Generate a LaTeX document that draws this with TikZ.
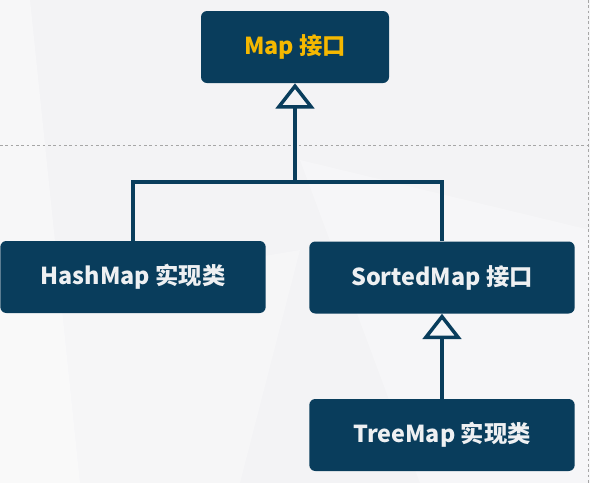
\documentclass[tikz,border=0pt]{standalone}
\usepackage{fontspec}
\setmainfont{Noto Sans CJK SC}
\usetikzlibrary{arrows.meta}

\definecolor{boxcolor}{RGB}{9,61,92}
\definecolor{titlecolor}{RGB}{245,184,0}
\definecolor{textcolor}{RGB}{238,240,242}
\definecolor{bgcolor}{RGB}{243,243,245}

\tikzset{
  classbox/.style={rectangle, rounded corners=4.5pt, fill=boxcolor, draw=none,
    minimum width=199pt, minimum height=54pt, inner sep=0pt,
    text=textcolor, font=\bfseries\fontsize{17.5}{17.5}\selectfont},
  link/.style={draw=boxcolor, line width=2.6pt},
  inherit/.style={link, -{Triangle[open, length=19pt, width=29pt, line width=2.6pt]}},
  guide/.style={draw=gray!70, line width=0.6pt, dash pattern=on 2pt off 2pt}
}

\begin{document}
\begin{tikzpicture}[x=0.75pt, y=-0.75pt]
% page and background
\fill[bgcolor] (0,0) rectangle (590,483);
\useasboundingbox (0,0) rectangle (590,483);
\fill[white, opacity=0.35] (30,0) -- (80,483) -- (0,483) -- (0,0) -- cycle;
\fill[white, opacity=0.3] (300,160) -- (590,230) -- (590,483) -- (420,483) -- cycle;
\fill[white, opacity=0.25] (0,300) -- (300,250) -- (240,483) -- (0,483) -- cycle;
% guide lines
\draw[guide] (0,145) -- (590,145);
\draw[guide] (588,0) -- (588,483);
% classes
\node[classbox, minimum width=141pt, text=titlecolor] (map) at (295,47) {Map 接口};
\node[classbox] (hashmap) at (133,277) {HashMap 实现类};
\node[classbox] (sortedmap) at (442,277.5) {SortedMap 接口};
\node[classbox] (treemap) at (442,435) {TreeMap 实现类};
% connectors
\coordinate (join) at (295,182);
\draw[link] (hashmap.north) |- (join) -| (sortedmap.north);
\draw[inherit] (join) -- (map.south);
\draw[inherit] (treemap.north) -- (sortedmap.south);
\end{tikzpicture}
\end{document}
